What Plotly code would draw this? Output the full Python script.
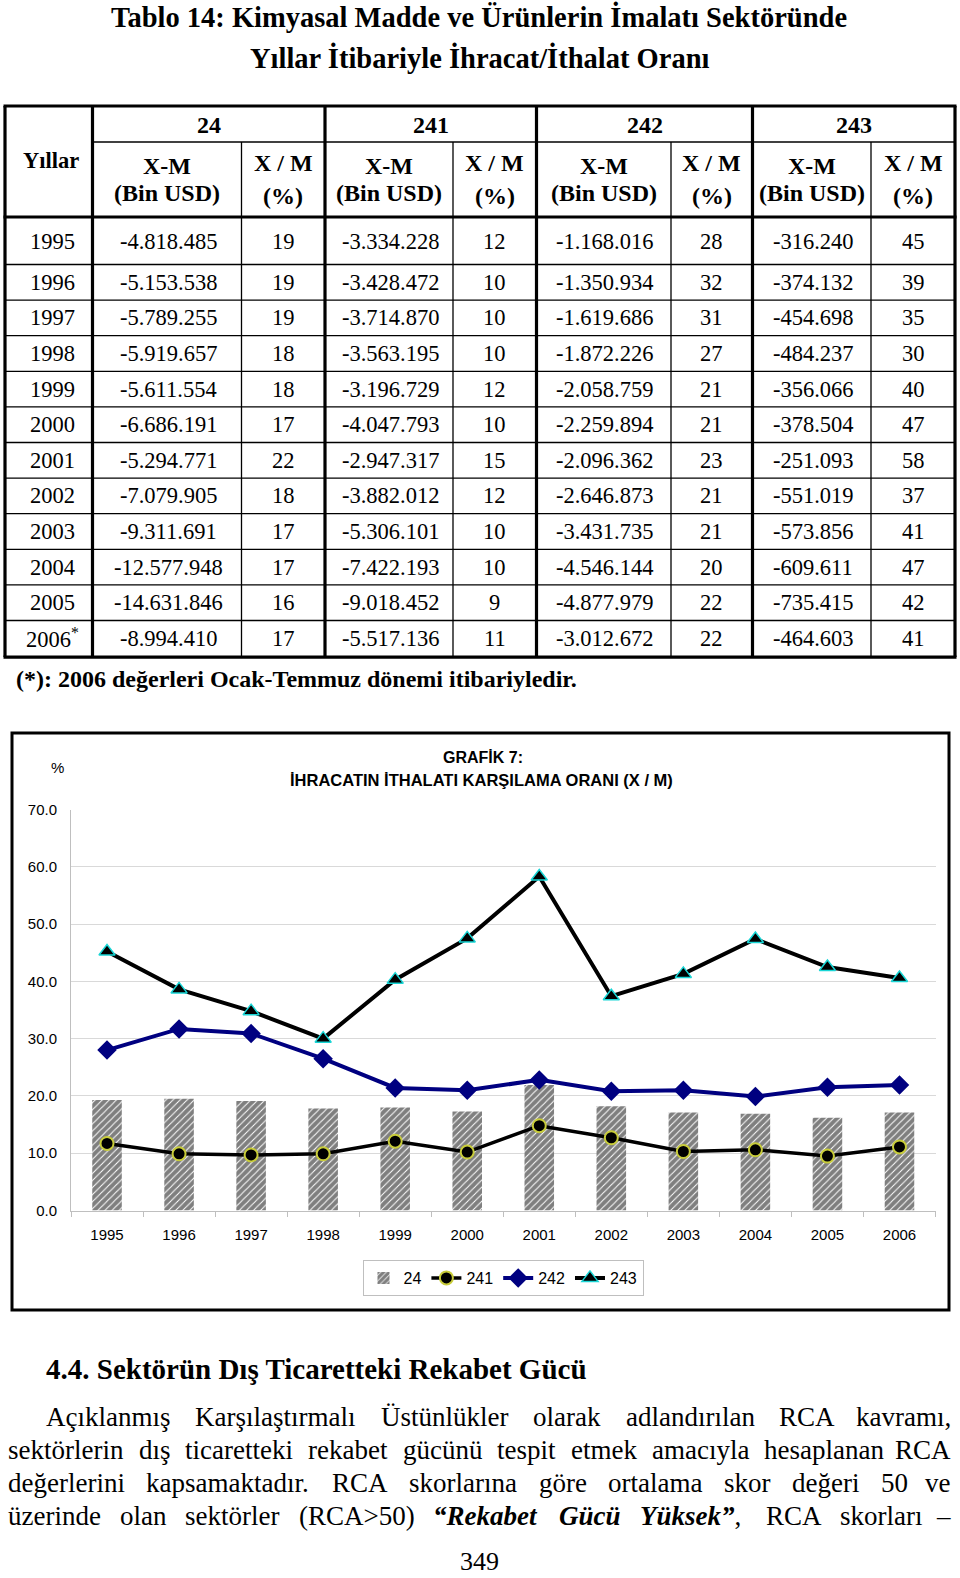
import plotly.graph_objects as go

W, H = 960, 1578
SERIF = "Liberation Serif"
SANS = "Liberation Sans"

# ---------------- data ----------------
years = ["1995", "1996", "1997", "1998", "1999", "2000", "2001", "2002", "2003", "2004", "2005", "2006"]
table_years = years[:-1] + ["2006<sup>*</sup>"]
groups = ["24", "241", "242", "243"]

xm_24 = [-4818485, -5153538, -5789255, -5919657, -5611554, -6686191, -5294771, -7079905, -9311691, -12577948, -14631846, -8994410]
xm_241 = [-3334228, -3428472, -3714870, -3563195, -3196729, -4047793, -2947317, -3882012, -5306101, -7422193, -9018452, -5517136]
xm_242 = [-1168016, -1350934, -1619686, -1872226, -2058759, -2259894, -2096362, -2646873, -3431735, -4546144, -4877979, -3012672]
xm_243 = [-316240, -374132, -454698, -484237, -356066, -378504, -251093, -551019, -573856, -609611, -735415, -464603]

xr_24 = [19, 19, 19, 18, 18, 17, 22, 18, 17, 17, 16, 17]
xr_241 = [12, 10, 10, 10, 12, 10, 15, 12, 10, 10, 9, 11]
xr_242 = [28, 32, 31, 27, 21, 21, 23, 21, 21, 20, 22, 22]
xr_243 = [45, 39, 35, 30, 40, 47, 58, 37, 41, 47, 42, 41]

# values as drawn in the chart
chart_24 = [19.3, 19.5, 19.1, 17.8, 18.0, 17.3, 21.9, 18.2, 17.1, 16.9, 16.2, 17.1]
chart_241 = [11.7, 9.9, 9.7, 9.9, 12.1, 10.2, 14.8, 12.7, 10.3, 10.6, 9.5, 11.1]
chart_242 = [28.0, 31.7, 30.9, 26.5, 21.4, 21.0, 22.8, 20.8, 21.0, 19.9, 21.5, 21.9]
chart_243 = [45.2, 38.6, 34.8, 30.0, 40.3, 47.5, 58.3, 37.4, 41.3, 47.4, 42.5, 40.6]

title_lines = ["Tablo 14: Kimyasal Madde ve Ürünlerin İmalatı Sektöründe",
               "Yıllar İtibariyle İhracat/İthalat Oranı"]
footnote = "(*): 2006 değerleri Ocak-Temmuz dönemi itibariyledir."
chart_title = ["GRAFİK 7:", "İHRACATIN İTHALATI KARŞILAMA ORANI (X / M)"]
section_title = "4.4. Sektörün Dış Ticaretteki Rekabet Gücü"
para_lines = [
    "Açıklanmış Karşılaştırmalı Üstünlükler olarak adlandırılan RCA kavramı,",
    "sektörlerin dış ticaretteki rekabet gücünü tespit etmek amacıyla hesaplanan RCA",
    "değerlerini kapsamaktadır. RCA skorlarına göre ortalama skor değeri 50 ve",
    "üzerinde olan sektörler (RCA>50) |“Rekabet |Gücü |Yüksek”|, RCA skorları –",
]
page_no = "349"


def fmt(v):
    return f"{v:,}".replace(",", ".")


def px(x):
    return x / W


def py(y):
    return 1 - y / H


annotations = []
shapes = []


def text(x, y, s, size, family=SERIF, anchor="center", color="black"):
    annotations.append(dict(x=px(x), y=py(y), xref="paper", yref="paper", text=s,
                            showarrow=False, xanchor=anchor, yanchor="middle",
                            font=dict(family=family, size=size, color=color)))


def line(x0, y0, x1, y1, w=1, color="black"):
    shapes.append(dict(type="line", xref="paper", yref="paper", x0=px(x0), y0=py(y0),
                       x1=px(x1), y1=py(y1), line=dict(color=color, width=w)))


# ---------------- page title ----------------
text(479, 17, "<b>" + title_lines[0] + "</b>", 28.5)
text(479, 58, "<b>" + title_lines[1] + "</b>", 28.5)

# ---------------- table ----------------
col_x = [5, 92.5, 241.5, 325, 453, 536.5, 671, 752.5, 871, 955]
thick_cols = {0, 1, 3, 5, 7, 9}
top, hdr_mid, hdr_bot = 106, 142, 217
row_top0 = 264.5
row_h = 35.6
bottom = row_top0 + row_h * 11 + 1

for i, x in enumerate(col_x):
    if i in thick_cols:
        line(x, top, x, bottom, w=3.2)
    else:
        line(x, hdr_mid, x, bottom, w=1.3)
line(col_x[0] - 1.5, top, col_x[-1] + 1.5, top, w=3.2)
line(col_x[1], hdr_mid, col_x[-1], hdr_mid, w=1.3)
line(col_x[0] - 1.5, hdr_bot, col_x[-1] + 1.5, hdr_bot, w=3.2)
for k in range(11):
    yk = row_top0 + row_h * k
    line(col_x[0], yk, col_x[-1], yk, w=1.3)
line(col_x[0] - 1.5, bottom, col_x[-1] + 1.5, bottom, w=3.2)

HS = 24
text(51, 161, "<b>Yıllar</b>", 22.5)
for g in range(4):
    a, b, c = col_x[1 + 2 * g], col_x[2 + 2 * g], col_x[3 + 2 * g]
    text((a + c) / 2, 125, "<b>" + groups[g] + "</b>", HS)
    text((a + b) / 2, 166, "<b>X-M</b>", HS)
    text((a + b) / 2, 193, "<b>(Bin USD)</b>", HS)
    text((b + c) / 2, 163, "<b>X / M</b>", HS)
    text((b + c) / 2, 196, "<b>(%)</b>", HS)

DS = 22.5
xm_all = [xm_24, xm_241, xm_242, xm_243]
xr_all = [xr_24, xr_241, xr_242, xr_243]
for r in range(12):
    yc = (hdr_bot + row_top0) / 2 + 1 if r == 0 else row_top0 + row_h * (r - 0.5)
    text(52.5, yc, table_years[r], DS)
    for g in range(4):
        a, b, c = col_x[1 + 2 * g], col_x[2 + 2 * g], col_x[3 + 2 * g]
        text((a + b) / 2 + 1.5, yc, fmt(xm_all[g][r]), DS)
        text((b + c) / 2, yc, str(xr_all[g][r]), DS)

text(14, 679, "<b>" + footnote + "</b>", 24, anchor="left")

# ---------------- chart frame & titles ----------------
shapes.append(dict(type="rect", xref="paper", yref="paper", x0=px(12), x1=px(949),
                   y0=py(733), y1=py(1310), line=dict(color="black", width=3)))
text(483, 758, "<b>" + chart_title[0] + "</b>", 16, family=SANS)
text(481, 780, "<b>" + chart_title[1] + "</b>", 16.5, family=SANS)
text(57, 768, "%", 15, family=SANS)

# ---------------- text below ----------------
text(44, 1369, "<b>" + section_title + "</b>", 29, anchor="left")

TW = {' ': 250, '(': 333, ')': 333, ',': 250, '-': 333, '.': 250, ':': 278, '>': 564,
      '“': 444, '”': 444, '–': 500}
for ch in "0123456789":
    TW[ch] = 500
TW.update({'A': 722, 'B': 667, 'C': 667, 'D': 722, 'E': 611, 'F': 556, 'G': 722, 'H': 722,
           'I': 333, 'K': 722, 'L': 611, 'M': 889, 'N': 722, 'O': 722, 'P': 556, 'R': 667,
           'S': 556, 'T': 611, 'U': 722, 'Ü': 722, 'Y': 722, 'Ş': 556, 'İ': 333, 'Ç': 667})
TW.update({'a': 444, 'b': 500, 'c': 444, 'd': 500, 'e': 444, 'f': 333, 'g': 500, 'h': 500,
           'i': 278, 'j': 278, 'k': 500, 'l': 278, 'm': 778, 'n': 500, 'o': 500, 'p': 500,
           'r': 333, 's': 389, 't': 278, 'u': 500, 'v': 500, 'y': 500, 'z': 444,
           'ç': 444, 'ş': 389, 'ğ': 500, 'ı': 278, 'ö': 500, 'ü': 500})


def width(s, size, bold=False):
    w = sum(TW.get(ch, 500) for ch in s) * size / 1000
    return w * (1.06 if bold else 1.0)


PS = 27
para_y = [1417, 1450, 1483, 1516]
left_margin, right_margin, indent = 6, 953, 44
for li, ln in enumerate(para_lines):
    tokens = []
    if "|" in ln:
        parts = ln.split("|")
        for w_ in parts[0].split():
            tokens.append((w_, False))
        tokens.append((parts[1].strip(), True))
        tokens.append((parts[2].strip(), True))
        tokens.append((parts[3].strip() + "|" + parts[4].split()[0], True))
        for w_ in parts[4].split()[1:]:
            tokens.append((w_, False))
    else:
        tokens = [(w_, False) for w_ in ln.split()]
    x0 = indent if li == 0 else left_margin
    widths = []
    for t, bi in tokens:
        if "|" in t:
            a, b = t.split("|")
            widths.append(width(a, PS, True) + width(b, PS))
        else:
            widths.append(width(t, PS, bi))
    gap = (right_margin - x0 - sum(widths)) / (len(tokens) - 1)
    x = x0
    n = len(tokens)
    for i, ((t, bi), wd) in enumerate(zip(tokens, widths)):
        if "|" in t:
            a, b = t.split("|")
            s = "<b><i>" + a + "</i></b>" + b
        elif bi:
            s = "<b><i>" + t + "</i></b>"
        else:
            s = t
        if i == n - 1:
            text(right_margin, para_y[li], s, PS, anchor="right")
        else:
            text(x, para_y[li], s, PS, anchor="left")
        x += wd + gap

text(479, 1561, page_no, 26)

# ---------------- chart traces ----------------
fig = go.Figure()
fig.add_trace(go.Bar(x=years, y=chart_24, name="24", width=0.41,
                     marker=dict(color="white", line=dict(width=0),
                                 pattern=dict(shape="/", fgcolor="black", bgcolor="white",
                                              size=5, solidity=0.8))))
fig.add_trace(go.Scatter(x=years, y=chart_241, name="241", mode="lines+markers",
                         line=dict(color="black", width=3.5),
                         marker=dict(symbol="circle", size=13, color="black",
                                     line=dict(color="#c8cc3a", width=2))))
fig.add_trace(go.Scatter(x=years, y=chart_242, name="242", mode="lines+markers",
                         line=dict(color="#000080", width=4),
                         marker=dict(symbol="diamond", size=15, color="#000080",
                                     line=dict(width=0))))
fig.add_trace(go.Scatter(x=years, y=chart_243, name="243", mode="lines+markers",
                         line=dict(color="black", width=4),
                         marker=dict(symbol="triangle-up", size=14, color="black",
                                     line=dict(color="#19d6d6", width=1.5))))

fig.update_layout(
    width=W, height=H, margin=dict(l=0, r=0, t=0, b=0, autoexpand=False),
    paper_bgcolor="white", plot_bgcolor="white",
    showlegend=True,
    legend=dict(orientation="h", x=px(503), y=py(1278), xanchor="center", yanchor="middle",
                bordercolor="#bfbfbf", borderwidth=1, font=dict(family=SANS, size=16, color="black"),
                itemwidth=30, tracegroupgap=0),
    xaxis=dict(domain=[px(71), px(935.5)], type="category", range=[-0.5, len(years) - 0.5],
               showgrid=False, showline=True, linecolor="#bfbfbf", linewidth=1,
               ticks="outside", tickson="boundaries", ticklen=5, tickcolor="#bfbfbf",
               tickfont=dict(family=SANS, size=15, color="black"), ticklabelstandoff=10,
               fixedrange=True),
    yaxis=dict(domain=[py(1210.5), py(809.5)], range=[0, 70], dtick=10, tickformat=".1f",
               showgrid=True, gridcolor="#d9d9d9", gridwidth=1, zeroline=False,
               showline=True, linecolor="#bfbfbf", linewidth=1,
               tickfont=dict(family=SANS, size=15, color="black"), ticklabelstandoff=10,
               fixedrange=True),
    annotations=annotations, shapes=shapes, bargap=0.59,
)

post = ("document.body.style.margin='0';document.body.style.overflow='hidden';"
        "var d=document.getElementById('{plot_id}');d.style.position='absolute';"
        "d.style.top='0px';d.style.left='0px';")
fig.write_html("out.html", post_script=post, config={"displayModeBar": False})
